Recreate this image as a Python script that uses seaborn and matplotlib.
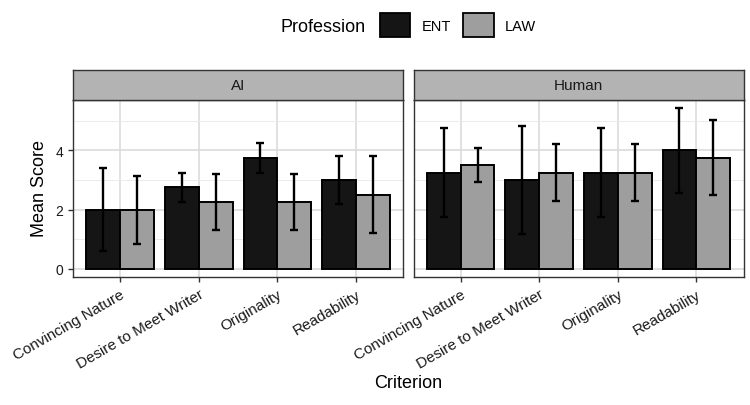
import numpy as np
import pandas as pd
import matplotlib
matplotlib.use("Agg")
import matplotlib.pyplot as plt
import seaborn as sns
from matplotlib.patches import Patch

# Dados
criteria = ["Convincing Nature", "Desire to Meet Writer", "Originality", "Readability"]
sources = ["AI", "Human"]
professions = ["ENT", "LAW"]

ai_ent_mean = [2.0, 2.75, 3.75, 3.0]
ai_ent_sd = [1.4, 0.5, 0.5, 0.8]
ai_law_mean = [2.0, 2.25, 2.25, 2.5]
ai_law_sd = [1.15, 0.95, 0.95, 1.3]
human_ent_mean = [3.25, 3.0, 3.25, 4.0]
human_ent_sd = [1.5, 1.83, 1.5, 1.42]
human_law_mean = [3.5, 3.25, 3.25, 3.75]
human_law_sd = [0.58, 0.96, 0.96, 1.26]

colors = {"ENT": "#151515", "LAW": "#9e9e9e"}

plt.rcParams["font.family"] = ["Liberation Sans", "DejaVu Sans"]

rows = []
for src, prof, means, sds in [
    ("AI", "ENT", ai_ent_mean, ai_ent_sd),
    ("AI", "LAW", ai_law_mean, ai_law_sd),
    ("Human", "ENT", human_ent_mean, human_ent_sd),
    ("Human", "LAW", human_law_mean, human_law_sd),
]:
    for c, m, s in zip(criteria, means, sds):
        rows.append({"Source": src, "Profession": prof, "Criterion": c, "Mean": m, "SD": s})
df = pd.DataFrame(rows)

fig = plt.figure(figsize=(7.5, 4.06), dpi=100)
W, H = 750, 406


def fr(x0, y0, x1, y1):
    return [x0 / W, 1 - y1 / H, (x1 - x0) / W, (y1 - y0) / H]


panels = [(73, 403), (413.5, 743.5)]
for i, src in enumerate(sources):
    x0, x1 = panels[i]
    ax = fig.add_axes(fr(x0, 101, x1, 278))
    sub = df[df["Source"] == src]
    sns.barplot(data=sub, x="Criterion", y="Mean", hue="Profession", order=criteria,
                hue_order=professions, palette=colors, errorbar=None, width=0.86,
                edgecolor="black", linewidth=1.4, ax=ax, zorder=3, legend=False)
    # barras de erro
    for cont, prof in zip(ax.containers, professions):
        s = sub[sub["Profession"] == prof].set_index("Criterion").loc[criteria]
        xs = [p.get_x() + p.get_width() / 2 for p in cont.patches]
        ax.errorbar(xs, s["Mean"], yerr=s["SD"], fmt="none", ecolor="black",
                    elinewidth=1.7, capsize=2.6, capthick=1.7, zorder=4)
    ax.set_xlim(-0.6, 3.6)
    ax.set_ylim(-0.27, 5.70)
    ax.set_yticks([0, 2, 4])
    ax.set_yticks([1, 3, 5], minor=True)
    ax.grid(True, which="major", color="#dcdcdc", linewidth=1.2, zorder=0)
    ax.grid(True, which="minor", axis="y", color="#ebebeb", linewidth=0.7, zorder=0)
    ax.set_axisbelow(True)
    for sp in ax.spines.values():
        sp.set_color("#333333")
        sp.set_linewidth(1.0)
    ax.tick_params(axis="both", which="major", length=3.5, color="#333333", width=1,
                   labelcolor="#1a1a1a")
    ax.tick_params(axis="y", which="major", labelsize=10)
    ax.tick_params(axis="y", which="minor", length=0)
    ax.set_xticks(range(len(criteria)))
    ax.set_xticklabels(criteria, rotation=30, ha="right", va="top", rotation_mode="anchor",
                       fontsize=11)
    ax.set_xlabel("")
    ax.set_ylabel("")
    if i == 1:
        ax.tick_params(axis="y", which="major", length=0, labelleft=False)

    # faixa do painel
    sax = fig.add_axes(fr(x0, 70.5, x1, 101))
    sax.set_facecolor("#b3b3b3")
    sax.set_xticks([])
    sax.set_yticks([])
    for sp in sax.spines.values():
        sp.set_color("#333333")
        sp.set_linewidth(1.0)
    sax.text(0.5, 0.5, src, ha="center", va="center", fontsize=11, color="#1a1a1a",
             transform=sax.transAxes)

fig.text(40 / W, 1 - 189 / H, "Mean Score", rotation=90, ha="center", va="center", fontsize=13)
fig.text(408 / W, 1 - 384 / H, "Criterion", ha="center", va="center", fontsize=13)

# legenda
fig.text(323 / W, 1 - 27 / H, "Profession", ha="center", va="center", fontsize=13)
handles = [Patch(facecolor=colors[p], edgecolor="black", linewidth=1.3) for p in professions]
fig.legend(handles, professions, ncol=2, loc="center", bbox_to_anchor=(458 / W, 1 - 26 / H),
           frameon=False, fontsize=10.5, handlelength=2.1, handleheight=2.1,
           handletextpad=0.8, columnspacing=0.8)

fig.savefig("out.png", dpi=100)
